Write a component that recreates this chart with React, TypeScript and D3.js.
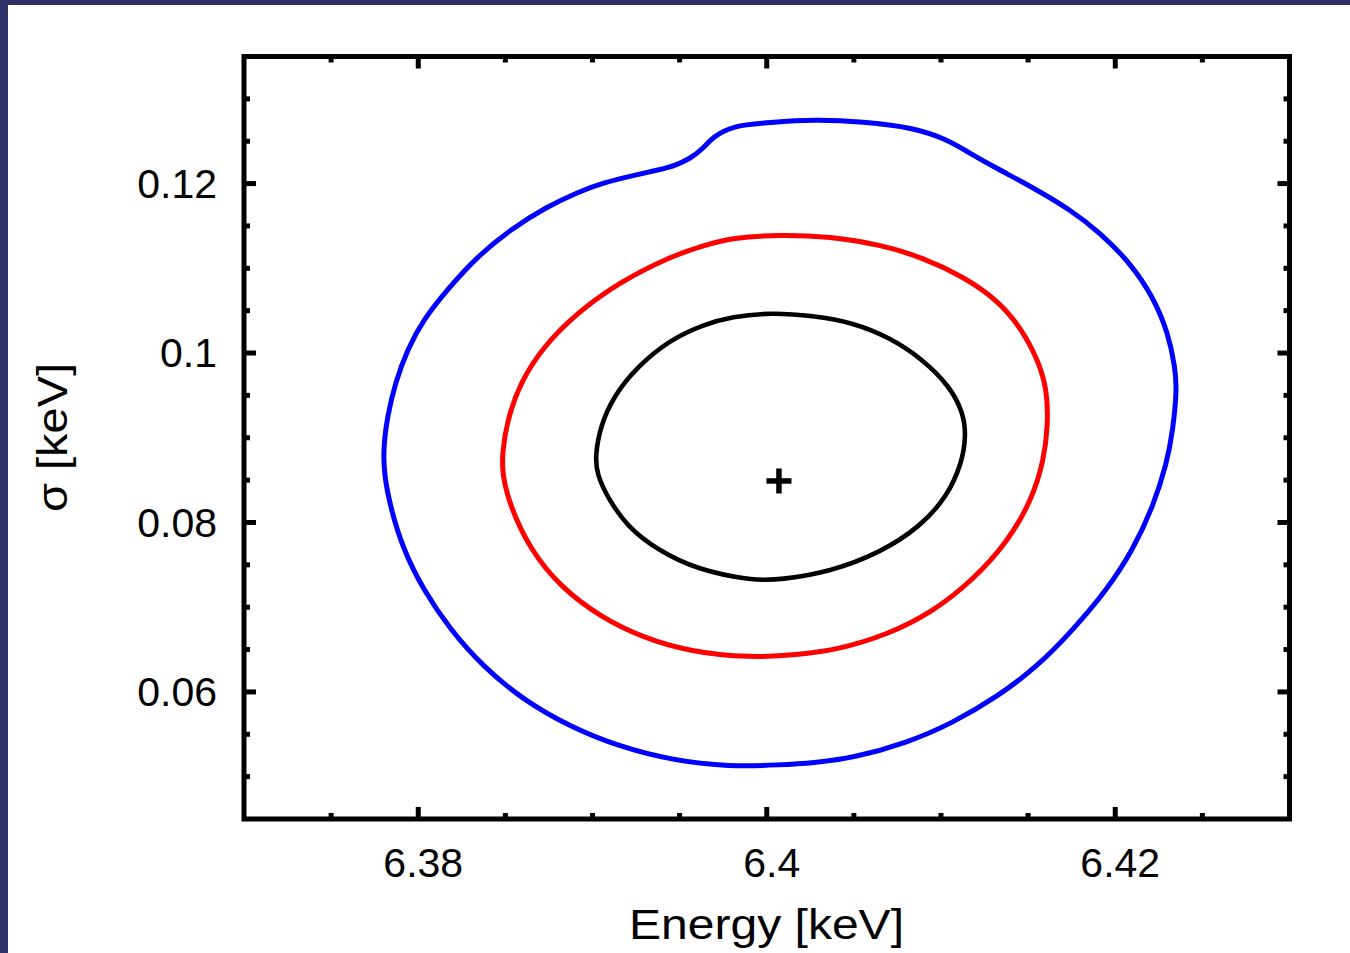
import React from "react";
import * as d3 from "d3";

// Confidence contours: [Energy keV, sigma keV]
const contourInner: [number, number][] = [
  [6.39015, 0.08776], [6.39044, 0.0913], [6.39119, 0.09485], [6.39256, 0.09839],
  [6.39446, 0.10158], [6.39635, 0.10335], [6.39801, 0.10429], [6.40019, 0.10477],
  [6.40266, 0.10441], [6.40496, 0.10359], [6.40708, 0.10181], [6.40897, 0.09922],
  [6.41052, 0.09603], [6.41127, 0.09296], [6.41144, 0.09036], [6.41121, 0.08705],
  [6.41035, 0.08304], [6.4088, 0.07949], [6.4065, 0.07642], [6.40364, 0.07418],
  [6.40077, 0.07323], [6.39922, 0.07312], [6.39601, 0.07441], [6.39371, 0.07678],
  [6.39199, 0.07949], [6.39084, 0.08304], [6.39027, 0.08563],
];

const contourMiddle: [number, number][] = [
  [6.38482, 0.08823], [6.38511, 0.09213], [6.38585, 0.0965], [6.38717, 0.10075],
  [6.38912, 0.10477], [6.39159, 0.10843], [6.39446, 0.11138], [6.39635, 0.11268],
  [6.39801, 0.11362], [6.40077, 0.11398], [6.40364, 0.11374], [6.4065, 0.1128],
  [6.40897, 0.11126], [6.41127, 0.10902], [6.41322, 0.1063], [6.41454, 0.10311],
  [6.41557, 0.09922], [6.41609, 0.09567], [6.41614, 0.09154], [6.41591, 0.08741],
  [6.41522, 0.08268], [6.41379, 0.0776], [6.41184, 0.07323], [6.40954, 0.06945],
  [6.40691, 0.06674], [6.40404, 0.06497], [6.40174, 0.06438], [6.39905, 0.06402],
  [6.3956, 0.06473], [6.39291, 0.06638], [6.39044, 0.06886], [6.38815, 0.07241],
  [6.38643, 0.07678], [6.38528, 0.08186], [6.38482, 0.08563],
];

const contourOuter: [number, number][] = [
  [6.37799, 0.08859], [6.37822, 0.09248], [6.37868, 0.0965], [6.37937, 0.1004],
  [6.38029, 0.10394], [6.38166, 0.10748], [6.38338, 0.11138], [6.38528, 0.11457],
  [6.3874, 0.11729], [6.38912, 0.11894], [6.39061, 0.12012], [6.39256, 0.12106],
  [6.39388, 0.12166], [6.39474, 0.12213], [6.3956, 0.12295], [6.39629, 0.12402],
  [6.39687, 0.12543], [6.39801, 0.12685], [6.40019, 0.12721], [6.40266, 0.12756],
  [6.40553, 0.12732], [6.4084, 0.12662], [6.41035, 0.1252], [6.4115, 0.12378],
  [6.41299, 0.12201], [6.41528, 0.11953], [6.41741, 0.11693], [6.41913, 0.11421],
  [6.42085, 0.11067], [6.42217, 0.10666], [6.42303, 0.1024], [6.42343, 0.09839],
  [6.42354, 0.09567], [6.42331, 0.09095], [6.42297, 0.08705], [6.42217, 0.08186],
  [6.42102, 0.07678], [6.41953, 0.07205], [6.41758, 0.06733], [6.41551, 0.06296],
  [6.41322, 0.05942], [6.41069, 0.05635], [6.40805, 0.05398], [6.40496, 0.05221],
  [6.40266, 0.05162], [6.40077, 0.05139], [6.3979, 0.05115], [6.39446, 0.05198],
  [6.39159, 0.05351], [6.38872, 0.05587], [6.38602, 0.05906], [6.38373, 0.06296],
  [6.38184, 0.06733], [6.38029, 0.07205], [6.37914, 0.07678], [6.37839, 0.08186],
  [6.37805, 0.08563],
];

const bestFit: [number, number] = [6.4007, 0.0849];

const xDomain: [number, number] = [6.37, 6.43];
const yDomain: [number, number] = [0.045, 0.135];
const xMajorTicks = [6.38, 6.4, 6.42];
const xMinorTicks = [6.375, 6.385, 6.39, 6.395, 6.405, 6.41, 6.415, 6.425];
const yMajorTicks = [0.06, 0.08, 0.1, 0.12];
const yMinorTicks = [0.05, 0.055, 0.065, 0.07, 0.075, 0.085, 0.09, 0.095, 0.105, 0.11, 0.115, 0.125, 0.13];
const xTickLabels = ["6.38", "6.4", "6.42"];
const yTickLabels = ["0.06", "0.08", "0.1", "0.12"];
const xTitle = "Energy [keV]";
const yTitle = "σ [keV]";

const contours = [
  { pts: contourOuter, color: "#0000ff", w: 5 },
  { pts: contourMiddle, color: "#ff0000", w: 5 },
  { pts: contourInner, color: "#000000", w: 4.6 },
];

const W = 1350;
const H = 953;
const L = 244, R = 1289.5, T = 56.5, B = 819;
const FONT = "'Liberation Sans', Arial, Helvetica, sans-serif";

export default function App() {
  const x = d3.scaleLinear().domain(xDomain).range([L, R]);
  const y = d3.scaleLinear().domain(yDomain).range([B, T]);
  const line = d3
    .line<[number, number]>()
    .x((d) => x(d[0]))
    .y((d) => y(d[1]))
    .curve(d3.curveBasisClosed);

  const majLen = 12;
  const minLen = 6;

  return (
    <svg
      width={W}
      height={H}
      style={{ position: "absolute", left: 0, top: 0, display: "block" }}
    >
      <rect x={0} y={0} width={W} height={H} fill="#31316a" />
      <rect x={8} y={5} width={W - 8} height={H - 5} fill="#ffffff" />

      {contours.map((c, i) => (
        <path key={i} d={line(c.pts) || ""} fill="none" stroke={c.color} strokeWidth={c.w} strokeLinejoin="round" />
      ))}

      {/* best fit cross */}
      <g stroke="#000" strokeWidth={5.5}>
        <line x1={x(bestFit[0]) - 12.5} x2={x(bestFit[0]) + 12.5} y1={y(bestFit[1])} y2={y(bestFit[1])} />
        <line x1={x(bestFit[0])} x2={x(bestFit[0])} y1={y(bestFit[1]) - 12.5} y2={y(bestFit[1]) + 12.5} />
      </g>

      {/* ticks */}
      <g stroke="#000" strokeWidth={5}>
        {xMajorTicks.map((t) => (
          <g key={"xm" + t}>
            <line x1={x(t)} x2={x(t)} y1={B} y2={B - majLen} />
            <line x1={x(t)} x2={x(t)} y1={T} y2={T + majLen} />
          </g>
        ))}
        {xMinorTicks.map((t) => (
          <g key={"xn" + t}>
            <line x1={x(t)} x2={x(t)} y1={B} y2={B - minLen} />
            <line x1={x(t)} x2={x(t)} y1={T} y2={T + minLen} />
          </g>
        ))}
        {yMajorTicks.map((t) => (
          <g key={"ym" + t}>
            <line x1={L} x2={L + majLen} y1={y(t)} y2={y(t)} />
            <line x1={R} x2={R - majLen} y1={y(t)} y2={y(t)} />
          </g>
        ))}
        {yMinorTicks.map((t) => (
          <g key={"yn" + t}>
            <line x1={L} x2={L + minLen} y1={y(t)} y2={y(t)} />
            <line x1={R} x2={R - minLen} y1={y(t)} y2={y(t)} />
          </g>
        ))}
      </g>

      <rect x={L} y={T} width={R - L} height={B - T} fill="none" stroke="#000" strokeWidth={5} />

      {/* tick labels */}
      <g fontFamily={FONT} fontSize={41} fill="#000">
        {xMajorTicks.map((t, i) => (
          <text key={"xl" + t} x={x(t) + 5} y={877} textAnchor="middle">
            {xTickLabels[i]}
          </text>
        ))}
        {yMajorTicks.map((t, i) => (
          <text key={"yl" + t} x={217} y={y(t)} dy="0.35em" textAnchor="end">
            {yTickLabels[i]}
          </text>
        ))}
      </g>

      <text x={766.5} y={939} textAnchor="middle" fontFamily={FONT} fontSize={43} textLength={275} lengthAdjust="spacingAndGlyphs">
        {xTitle}
      </text>
      <text
        transform={`translate(67, 437.5) rotate(-90)`}
        textAnchor="middle"
        fontFamily={FONT}
        fontSize={43}
        textLength={149}
        lengthAdjust="spacingAndGlyphs"
      >
        {yTitle}
      </text>
    </svg>
  );
}
